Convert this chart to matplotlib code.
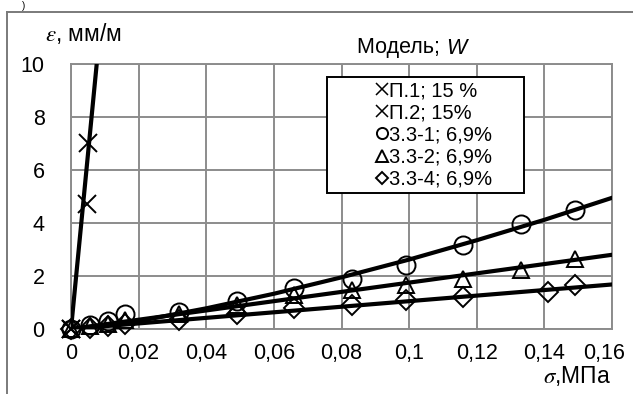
import numpy as np
import matplotlib
matplotlib.use("Agg")
from matplotlib import pyplot as plt
from matplotlib import transforms
from matplotlib.lines import Line2D
from matplotlib.patches import Rectangle

plt.rcParams['font.family'] = ['Liberation Sans', 'DejaVu Sans']
plt.rcParams['mathtext.fontset'] = 'stix'

# measured points: stress sigma, MPa / strain eps, mm/m
sig_p1 = [0, 0.0050]
eps_p1 = [0, 7.0]
sig_p2 = [0, 0.0046]
eps_p2 = [0, 4.7]

sig_31 = [0, 0.0056, 0.011, 0.016, 0.032, 0.049, 0.066, 0.083, 0.099, 0.116, 0.133, 0.149]
eps_31 = [0, 0.15, 0.3, 0.55, 0.65, 1.05, 1.55, 1.9, 2.4, 3.17, 3.95, 4.5]

sig_32 = [0, 0.0056, 0.011, 0.016, 0.032, 0.049, 0.066, 0.083, 0.099, 0.116, 0.133, 0.149]
eps_32 = [0, 0.1, 0.2, 0.35, 0.55, 0.9, 1.3, 1.47, 1.66, 1.89, 2.23, 2.64]

sig_34 = [0, 0.0056, 0.011, 0.016, 0.032, 0.049, 0.066, 0.083, 0.099, 0.116, 0.141, 0.149]
eps_34 = [0, 0.05, 0.12, 0.2, 0.34, 0.57, 0.8, 0.9, 1.09, 1.2, 1.4, 1.66]

# model curves
mod_p_sig = [0, 0.0079]
mod_p_eps = [0, 10.4]
mod_31_sig = [0, 0.02, 0.04, 0.06, 0.08, 0.10, 0.12, 0.14, 0.16]
mod_31_eps = [0, 0.3, 0.78, 1.33, 1.95, 2.62, 3.35, 4.12, 4.95]
mod_32_sig = [0, 0.16]
mod_32_eps = [0, 2.8]
mod_34_sig = [0, 0.16]
mod_34_eps = [0, 1.68]

xticks = [0, 0.02, 0.04, 0.06, 0.08, 0.1, 0.12, 0.14, 0.16]
xlabels = ["0", "0,02", "0,04", "0,06", "0,08", "0,1", "0,12", "0,14", "0,16"]
yticks = [0, 2, 4, 6, 8, 10]

labels = ["\u041f.1; 15 %", "\u041f.2; 15%", "3.3-1; 6,9%",
          "3.3-2; 6,9%", "3.3-4; 6,9%"]

fig = plt.figure(figsize=(6.33, 3.94), dpi=100, facecolor='w')
ax = fig.add_axes([0.1122, 0.1650, 0.8547, 0.6726])

grid_c = '#8c8c8c'
ax.set_xlim(0, 0.16)
ax.set_ylim(0, 10)
ax.set_xticks(xticks)
ax.set_xticklabels(xlabels)
ax.set_yticks(yticks)
ax.tick_params(length=0, labelsize=15.5, colors='black')
ax.tick_params(axis='y', pad=19)
ax.tick_params(axis='x', pad=10)
ax.grid(True, c=grid_c, lw=1.4)
for s in ax.spines.values():
    s.set_color(grid_c)
    s.set_linewidth(1.4)

# last x label sits a bit to the left so it stays inside the picture
last = ax.get_xticklabels()[-1]
last.set_transform(last.get_transform() +
                   transforms.ScaledTranslation(-8 / 100, 0, fig.dpi_scale_trans))

lw = 3.0
ax.plot(mod_p_sig, mod_p_eps, c='k', lw=lw, zorder=3)
ax.plot(mod_31_sig, mod_31_eps, c='k', lw=lw, zorder=3)
ax.plot(mod_32_sig, mod_32_eps, c='k', lw=lw, zorder=3)
ax.plot(mod_34_sig, mod_34_eps, c='k', lw=lw, zorder=3)

mk = dict(ls='none', mfc='none', mec='k', mew=1.4, zorder=4, clip_on=False)
ax.plot(sig_p1, eps_p1, marker='x', ms=13, **mk)
ax.plot(sig_p2, eps_p2, marker='x', ms=13, **mk)
ax.plot(sig_31, eps_31, marker='o', ms=13, **mk)
ax.plot(sig_32, eps_32, marker='^', ms=12, **mk)
ax.plot(sig_34, eps_34, marker='D', ms=10, **mk)

# legend box with the series list
ax.add_patch(Rectangle((0.473, 0.513), 0.364, 0.438, transform=ax.transAxes,
                       fc='white', ec='black', lw=1.4, zorder=6))
handles = [Line2D([], [], ls='none', marker='x', ms=9, mec='k', mew=1.1),
           Line2D([], [], ls='none', marker='x', ms=9, mec='k', mew=1.1),
           Line2D([], [], ls='none', marker='o', ms=8, mfc='none', mec='k', mew=1.4),
           Line2D([], [], ls='none', marker='^', ms=8, mfc='none', mec='k', mew=1.4),
           Line2D([], [], ls='none', marker='D', ms=6, mfc='none', mec='k', mew=1.4)]
leg = ax.legend(handles, labels, loc='center', bbox_to_anchor=(0.672, 0.732),
                frameon=False, fontsize=14.5, handlelength=0.5, handletextpad=0.1,
                labelspacing=0.16, borderpad=0)
leg.set_zorder(7)

t = fig.text(357 / 633, 1 - 48 / 394, "\u041c\u043e\u0434\u0435\u043b\u044c; ",
             fontsize=15.5, ha='left', va='center')
ax.annotate("W", xy=(1, 0), xycoords=t, fontsize=15.5, style='italic',
            ha='left', va='bottom', annotation_clip=False)

fig.text(45 / 633, 1 - 33 / 394, "$\\varepsilon$, \u043c\u043c/\u043c",
         fontsize=16.5, ha='left', va='center')
fig.text(611 / 633, 1 - 376 / 394, "$\\sigma$,\u041c\u041f\u0430",
         fontsize=16.5, ha='right', va='center')

# outer frame of the picture
fig.add_artist(Line2D([6.5 / 633, 6.5 / 633], [0, 1 - 12 / 394],
                      transform=fig.transFigure, c='#7a7a7a', lw=1.4))
fig.add_artist(Line2D([6.5 / 633, 1], [1 - 12 / 394, 1 - 12 / 394],
                      transform=fig.transFigure, c='#7a7a7a', lw=1.4))
fig.text(24 / 633, 0.998, ")", fontsize=7, ha='center', va='top')

fig.savefig('out.png', dpi=100, facecolor='w')
